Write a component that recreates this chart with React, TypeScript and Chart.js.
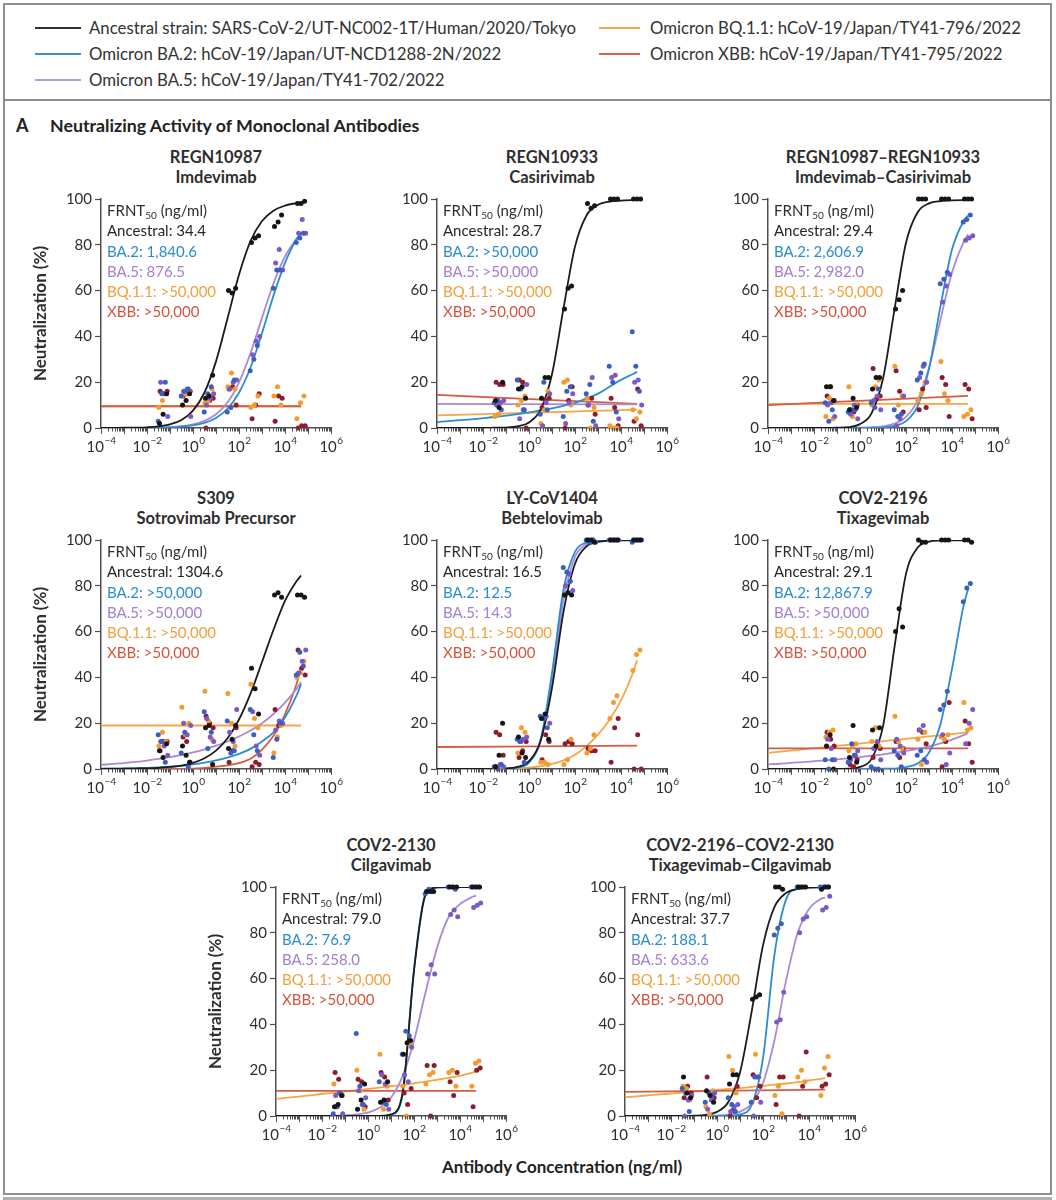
import React, { useEffect, useRef } from 'react';
import { Chart, registerables } from 'chart.js';

Chart.register(...registerables);

const FONT = "Lato, 'Open Sans', 'DejaVu Sans', sans-serif";
const TEXT = '#2e2e2e';
const AXIS = '#505050';
Chart.defaults.font.family = FONT;

// ---------- shared x values ----------
const CONC = [0.05, 0.5, 5, 50, 500, 5000, 50000];
const REP_X = [0.7, 1.0, 1.42];
const VARIANT_X = [1.0, 0.88, 1.12, 0.94, 1.06];
const CURVE_X = [1e-4, 3.162e-4, 1e-3, 3.162e-3, 1e-2, 3.162e-2, 0.1, 0.3162, 1, 3.162, 10, 31.62, 100, 316.2, 1000, 3162, 10000, 31623, 50000];
const LINE_X = [1e-4, 50000];
const X_LABEL_EXPS = [-4, -2, 0, 2, 4, 6];
const Y_TICKS = [0, 20, 40, 60, 80, 100];

// ---------- labels ----------
const VARIANT_NAMES = ['Ancestral', 'BA.2', 'BA.5', 'BQ.1.1', 'XBB'];
const LEGEND_LABELS = [
  'Ancestral strain: SARS-CoV-2/UT-NC002-1T/Human/2020/Tokyo',
  'Omicron BA.2: hCoV-19/Japan/UT-NCD1288-2N/2022',
  'Omicron BA.5: hCoV-19/Japan/TY41-702/2022',
  'Omicron BQ.1.1: hCoV-19/Japan/TY41-796/2022',
  'Omicron XBB: hCoV-19/Japan/TY41-795/2022',
];
const TITLE_LINE1 = ['REGN10987', 'REGN10933', 'REGN10987–REGN10933', 'S309', 'LY-CoV1404', 'COV2-2196', 'COV2-2130', 'COV2-2196–COV2-2130'];
const TITLE_LINE2 = ['Imdevimab', 'Casirivimab', 'Imdevimab–Casirivimab', 'Sotrovimab Precursor', 'Bebtelovimab', 'Tixagevimab', 'Cilgavimab', 'Tixagevimab–Cilgavimab'];
const FRNT_ANC = ['34.4', '28.7', '29.4', '1304.6', '16.5', '29.1', '79.0', '37.7'];
const FRNT_BA2 = ['1,840.6', '>50,000', '2,606.9', '>50,000', '12.5', '12,867.9', '76.9', '188.1'];
const FRNT_BA5 = ['876.5', '>50,000', '2,982.0', '>50,000', '14.3', '>50,000', '258.0', '633.6'];
const FRNT_BQ = ['>50,000', '>50,000', '>50,000', '>50,000', '>50,000', '>50,000', '>50,000', '>50,000'];
const FRNT_XBB = ['>50,000', '>50,000', '>50,000', '>50,000', '>50,000', '>50,000', '>50,000', '>50,000'];

// ---------- measured points (3 replicates per concentration) ----------
const P1_ANC = [2, 6, 15, 10, 12, 15, 13, 14, 23, 60, 59, 61, 81, 83, 84, 88, 90, 93, 98, 98, 99];
const P1_BA2 = [3, 15, 20, 14, 16, 17, 7, 15, 18, 7, 9, 21, 25, 30, 36, 61, 69, 69, 81, 83, 85];
const P1_BA5 = [20, 15, 5, 16, 17, 5, 10, 13, 15, 17, 20, 21, 32, 38, 40, 72, 78, 69, 85, 91, 85];
const P1_BQ = [9, 12, 15, 14, 15, 16, 11, 12, 17, 18, 24, 17, 9, 10, 14, 14, 18, 10, 4, 11, 14];
const P1_XBB = [16, 15, 16, 14, 15, 16, 0, 12, 13, 17, 18, 10, 4, 10, 15, 3, 14, 13, 0, 1, 1];

const P2_ANC = [12, 9, 20, 17, 18, 13, 13, 22, 22, 52, 61, 62, 98, 96, 97, 100, 100, 100, 100, 100, 100];
const P2_BA2 = [11, 12, 8, 21, 17, 8, 6, 20, 8, 5, 16, 18, 15, 19, 3, 27, 20, 7, 42, 27, 16];
const P2_BA5 = [10, 11, 12, 4, 8, 19, 1, 11, 15, 2, 11, 15, 10, 22, 1, 22, 23, 4, 20, 21, 10];
const P2_BQ = [5, 6, 11, 10, 12, 14, 2, 8, 16, 20, 21, 10, 13, 0, 9, 1, 0, 0, 8, 4, 7];
const P2_XBB = [20, 19, 19, 21, 20, 0, 9, 12, 13, 0, 12, 18, 10, 13, 6, 13, 9, 1, 3, 17, 1];

const P3_ANC = [18, 18, 12, 8, 13, 9, 17, 22, 22, 52, 56, 60, 100, 100, 100, 100, 100, 100, 100, 100, 100];
const P3_BA2 = [11, 3, 8, 7, 8, 8, 11, 9, 17, 8, 5, 6, 21, 24, 28, 63, 65, 68, 90, 91, 93];
const P3_BA5 = [10, 11, 5, 6, 10, 4, 12, 14, 8, 1, 4, 14, 22, 27, 20, 55, 62, 67, 82, 83, 84];
const P3_BQ = [5, 13, 4, 18, 5, 10, 10, 18, 21, 27, 10, 14, 12, 15, 20, 29, 15, 12, 5, 6, 8];
const P3_XBB = [14, 18, 12, 8, 7, 10, 26, 13, 14, 25, 16, 7, 8, 17, 9, 22, 19, 5, 19, 17, 4];

const P4_ANC = [8, 5, 11, 10, 6, 3, 18, 19, 2, 9, 13, 19, 44, 35, 24, 76, 77, 75, 76, 76, 75];
const P4_BA2 = [15, 12, 3, 7, 16, 1, 25, 9, 16, 21, 7, 8, 26, 15, 8, 5, 13, 20, 41, 51, 45];
const P4_BA5 = [12, 10, 6, 20, 15, 19, 22, 14, 12, 16, 12, 26, 25, 10, 6, 17, 21, 20, 42, 47, 52];
const P4_BQ = [10, 16, 12, 27, 15, 20, 34, 21, 13, 33, 20, 10, 37, 22, 18, 7, 14, 19, 40, 42, 47];
const P4_XBB = [8, 12, 12, 14, 12, 3, 23, 20, 18, 3, 8, 18, 1, 3, 2, 26, 19, 20, 52, 44, 41];

const P5_ANC = [1, 6, 20, 14, 7, 5, 22, 24, 13, 76, 77, 76, 100, 100, 99, 100, 100, 100, 100, 100, 100];
const P5_BA2 = [1, 0, 2, 13, 12, 3, 23, 22, 18, 88, 86, 82, 100, 99, 100, 100, 100, 100, 99, 100, 100];
const P5_BA5 = [1, 2, 1, 12, 13, 14, 22, 23, 20, 80, 85, 78, 100, 100, 99, 100, 100, 100, 100, 100, 100];
const P5_BQ = [1, 0, 1, 7, 18, 16, 3, 3, 2, 2, 4, 13, 7, 9, 15, 22, 29, 32, 43, 50, 52];
const P5_XBB = [16, 15, 6, 5, 8, 12, 4, 15, 12, 11, 12, 11, 9, 8, 8, 3, 18, 22, 0, 15, 0];

const P6_ANC = [10, 15, 0, 5, 19, 3, 17, 10, 18, 60, 70, 62, 100, 99, 99, 100, 100, 100, 100, 100, 99];
const P6_BA2 = [4, 0, 4, 3, 11, 6, 1, 0, 0, 8, 6, 1, 6, 8, 4, 26, 28, 34, 73, 79, 81];
const P6_BA5 = [13, 9, 4, 4, 6, 8, 9, 12, 4, 13, 10, 7, 17, 19, 3, 15, 2, 7, 11, 20, 26];
const P6_BQ = [14, 16, 17, 8, 10, 11, 12, 18, 10, 23, 12, 9, 13, 2, 16, 14, 13, 15, 29, 17, 18];
const P6_XBB = [16, 13, 10, 2, 1, 4, 5, 10, 9, 12, 5, 9, 17, 16, 11, 1, 12, 29, 21, 11, 3];

const P7_ANC = [4, 5, 9, 3, 7, 14, 6, 7, 15, 27, 32, 33, 98, 98, 98, 100, 100, 100, 100, 100, 100];
const P7_BA2 = [1, 4, 10, 36, 13, 5, 15, 6, 5, 27, 37, 35, 97, 99, 98, 100, 100, 99, 100, 100, 100];
const P7_BA5 = [9, 10, 1, 11, 5, 8, 18, 14, 3, 18, 15, 30, 62, 66, 62, 88, 90, 87, 91, 92, 93];
const P7_BQ = [14, 4, 10, 20, 11, 3, 27, 3, 13, 13, 0, 31, 14, 18, 19, 19, 20, 13, 13, 23, 24];
const P7_XBB = [19, 16, 9, 16, 15, 4, 19, 17, 7, 10, 5, 12, 22, 0, 22, 15, 9, 19, 4, 20, 21];

const P8_ANC = [17, 10, 8, 11, 9, 6, 14, 18, 18, 51, 52, 53, 100, 100, 99, 100, 100, 100, 99, 100, 100];
const P8_BA2 = [12, 10, 2, 6, 10, 9, 8, 5, 2, 6, 17, 17, 79, 82, 84, 100, 100, 100, 100, 100, 100];
const P8_BA5 = [0, 7, 9, 3, 7, 10, 2, 4, 5, 0, 17, 6, 41, 42, 54, 80, 86, 87, 90, 91, 96];
const P8_BQ = [13, 12, 7, 4, 1, 11, 26, 20, 10, 6, 27, 17, 9, 13, 1, 17, 20, 15, 9, 21, 26];
const P8_XBB = [8, 13, 10, 17, 10, 8, 0, 3, 13, 18, 8, 13, 5, 17, 17, 0, 13, 28, 13, 14, 18];

// ---------- fitted curves (values at CURVE_X, or at LINE_X when 2 values) ----------
const P1_ANC_FIT = [0, 0, 0.1, 0.1, 0.3, 0.7, 1.6, 3.5, 7.6, 15.5, 29.1, 47.8, 66.9, 81.6, 90.4, 94.9, 97.1, 98.2, 98.5];
const P1_BA2_FIT = [0, 0, 0, 0, 0, 0.1, 0.3, 0.6, 1.1, 2.2, 4.4, 8.4, 15.4, 26.4, 41.4, 57.8, 72.1, 82.4, 85];
const P1_BA5_FIT = [0, 0, 0, 0, 0.1, 0.2, 0.4, 0.8, 1.6, 3.1, 6.0, 11.1, 19.9, 32.7, 48.1, 63.1, 74.9, 82.5, 84.6];
const P1_BQ_FIT = [9.5, 9.5];
const P1_XBB_FIT = [9.5, 9.5];

const P2_ANC_FIT = [0, 0, 0, 0, 0, 0.1, 0.2, 0.7, 2.4, 8.0, 23.5, 52.2, 79.2, 92.8, 97.5, 98.9, 99.3, 99.5, 99.5];
const P2_BA2_FIT = [2.6, 3.0, 3.4, 3.8, 4.3, 4.8, 5.4, 6.1, 6.8, 7.7, 8.6, 9.7, 11.0, 12.8, 15.0, 18.0, 21.0, 23.5, 24.5];
const P2_BA5_FIT = [10.5, 10.3];
const P2_BQ_FIT = [5.5, 8];
const P2_XBB_FIT = [14.5, 10.5];

const P3_ANC_FIT = [0, 0, 0, 0, 0, 0, 0.1, 0.4, 1.7, 6.4, 21.5, 51.8, 80.9, 94.1, 98.1, 99.1, 99.4, 99.5, 99.5];
const P3_BA2_FIT = [0, 0, 0, 0, 0, 0, 0, 0, 0, 0.1, 0.3, 0.9, 3.0, 9.4, 25.8, 53.2, 77.9, 90.3, 92.8];
const P3_BA5_FIT = [0, 0, 0, 0, 0, 0, 0, 0, 0.1, 0.3, 0.7, 1.9, 4.9, 12.0, 26.2, 47.4, 67.9, 81.2, 84.5];
const P3_BQ_FIT = [10.5, 10.5];
const P3_XBB_FIT = [10, 14];

const P4_ANC_FIT = [0, 0, 0.1, 0.2, 0.3, 0.5, 0.9, 1.5, 2.7, 4.7, 8.0, 13.4, 21.6, 32.9, 46.7, 60.8, 73.4, 82.0, 84.5];
const P4_BA2_FIT = [0.2, 0.25, 0.3, 0.4, 0.5, 0.7, 1.0, 1.4, 2.0, 2.8, 3.8, 5.0, 6.6, 8.8, 12, 16, 22.5, 32, 37];
const P4_BA5_FIT = [1.8, 2.2, 2.6, 3.1, 3.7, 4.4, 5.2, 6.2, 7.3, 8.6, 10.2, 12, 14.2, 16.8, 20, 24, 29, 35, 38];
const P4_BQ_FIT = [19, 19];
const P4_XBB_FIT = [0, 0, 0, 0, 0, 0, 0, 0, 0.2, 0.5, 1, 1.6, 2.6, 4.5, 8.5, 14.5, 24, 37, 44];

const P5_ANC_FIT = [0, 0, 0, 0, 0, 0.1, 0.2, 0.9, 3.4, 12.1, 35.4, 68.6, 89.6, 97.2, 99.2, 99.7, 99.8, 99.8, 99.8];
const P5_BA2_FIT = [0, 0, 0, 0, 0, 0, 0.1, 0.6, 2.8, 12.6, 42, 78.4, 94.8, 98.9, 99.7, 99.9, 100, 100, 100];
const P5_BA5_FIT = [0, 0, 0, 0, 0, 0, 0.2, 0.7, 3.1, 12.4, 38.7, 73.8, 92.6, 98.2, 99.6, 99.9, 100, 100, 100];
const P5_BQ_FIT = [0, 0, 0, 0, 0, 0, 0.1, 0.3, 0.6, 1.2, 2.2, 3.8, 6.2, 10, 15, 21.5, 30, 41.5, 47.5];
const P5_XBB_FIT = [9.6, 10.2];

const P6_ANC_FIT = [0, 0, 0, 0, 0, 0, 0, 0.2, 0.9, 4.4, 18.6, 53.2, 85.2, 96.6, 99.3, 99.8, 99.9, 99.9, 99.9];
const P6_BA2_FIT = [0, 0, 0, 0, 0, 0, 0, 0, 0, 0, 0.1, 0.2, 0.8, 2.4, 7.2, 19.7, 43.7, 71.1, 78.5];
const P6_BA5_FIT = [2, 2.3, 2.7, 3.0, 3.4, 3.8, 4.2, 4.7, 5.2, 5.8, 6.4, 7.1, 7.9, 8.8, 9.9, 11.2, 12.8, 14.8, 15.8];
const P6_BQ_FIT = [7, 16];
const P6_XBB_FIT = [9, 9];

const P7_ANC_FIT = [0, 0, 0, 0, 0, 0, 0, 0, 0, 0, 0.7, 9.9, 63.5, 96.5, 99.8, 100, 100, 100, 100];
const P7_BA2_FIT = [0, 0, 0, 0, 0, 0, 0, 0, 0, 0, 0.5, 9.0, 64.0, 97.0, 99.8, 100, 100, 100, 100];
const P7_BA5_FIT = [0, 0, 0, 0, 0, 0.1, 0.3, 0.7, 1.5, 3.6, 8.0, 17.3, 32.9, 53.9, 73.4, 86.8, 92.5, 95.5, 96.2];
const P7_BQ_FIT = [7.5, 8.0, 8.5, 9.0, 9.6, 10.1, 10.7, 11.2, 11.8, 12.4, 13.0, 13.6, 14.3, 15.0, 15.8, 16.6, 17.6, 18.8, 19.5];
const P7_XBB_FIT = [11, 11];

const P8_ANC_FIT = [0, 0, 0, 0, 0, 0, 0.1, 0.5, 1.8, 6.2, 19.0, 45.2, 74.5, 91.3, 97.4, 99.2, 99.7, 99.9, 99.9];
const P8_BA2_FIT = [0, 0, 0, 0, 0, 0, 0, 0, 0, 0.1, 0.7, 4.6, 25.3, 70.6, 94.5, 99.2, 99.9, 100, 100];
const P8_BA5_FIT = [0, 0, 0, 0, 0, 0, 0, 0.1, 0.2, 0.6, 1.9, 5.3, 14.4, 33.2, 59.0, 79.7, 90.4, 94.7, 95.4];
const P8_BQ_FIT = [8.2, 8.6, 9.0, 9.4, 9.8, 10.2, 10.6, 11.0, 11.4, 11.8, 12.2, 12.7, 13.2, 13.7, 14.2, 14.8, 15.5, 16.2, 16.5];
const P8_XBB_FIT = [10.5, 11.5];

// ---------- styling ----------
const LINE_COLORS = ['#1c1c1c', '#2a8cd2', '#a98ad4', '#f2a646', '#d65b43'];
const DOT_COLORS = ['#161616', '#3a5fc4', '#7a5ac6', '#f59a2c', '#8c1c2e'];
const LABEL_COLORS = ['#262626', '#2a8cd2', '#a27fd1', '#f2a03c', '#d4553e'];
const LEGEND_COLORS = ['#333333', '#3a8fd0', '#b79ad6', '#f0a84a', '#d7604a'];
const LINE_DRAW_ORDER = [0, 1, 2, 4, 3];

const PANEL_LEFT = [101, 437, 768, 101, 437, 768, 276, 625];
const PANEL_TOP = [199, 199, 199, 540, 540, 540, 887, 887];
const PLOT_W = 230;
const PLOT_H = 229;
const Y_AXIS_W = 71;
const PAD_TOP = 12;
const PAD_RIGHT = 14;
const X_AXIS_H = 30;

const PANELS = [
  { dots: [P1_ANC, P1_BA2, P1_BA5, P1_BQ, P1_XBB], fits: [P1_ANC_FIT, P1_BA2_FIT, P1_BA5_FIT, P1_BQ_FIT, P1_XBB_FIT] },
  { dots: [P2_ANC, P2_BA2, P2_BA5, P2_BQ, P2_XBB], fits: [P2_ANC_FIT, P2_BA2_FIT, P2_BA5_FIT, P2_BQ_FIT, P2_XBB_FIT] },
  { dots: [P3_ANC, P3_BA2, P3_BA5, P3_BQ, P3_XBB], fits: [P3_ANC_FIT, P3_BA2_FIT, P3_BA5_FIT, P3_BQ_FIT, P3_XBB_FIT] },
  { dots: [P4_ANC, P4_BA2, P4_BA5, P4_BQ, P4_XBB], fits: [P4_ANC_FIT, P4_BA2_FIT, P4_BA5_FIT, P4_BQ_FIT, P4_XBB_FIT] },
  { dots: [P5_ANC, P5_BA2, P5_BA5, P5_BQ, P5_XBB], fits: [P5_ANC_FIT, P5_BA2_FIT, P5_BA5_FIT, P5_BQ_FIT, P5_XBB_FIT] },
  { dots: [P6_ANC, P6_BA2, P6_BA5, P6_BQ, P6_XBB], fits: [P6_ANC_FIT, P6_BA2_FIT, P6_BA5_FIT, P6_BQ_FIT, P6_XBB_FIT] },
  { dots: [P7_ANC, P7_BA2, P7_BA5, P7_BQ, P7_XBB], fits: [P7_ANC_FIT, P7_BA2_FIT, P7_BA5_FIT, P7_BQ_FIT, P7_XBB_FIT] },
  { dots: [P8_ANC, P8_BA2, P8_BA5, P8_BQ, P8_XBB], fits: [P8_ANC_FIT, P8_BA2_FIT, P8_BA5_FIT, P8_BQ_FIT, P8_XBB_FIT] },
];
const FRNT_VALUES = [FRNT_ANC, FRNT_BA2, FRNT_BA5, FRNT_BQ, FRNT_XBB];

const logAxisPlugin = {
  id: 'logAxisDecor',
  afterDraw(chart: any) {
    const ctx = chart.ctx;
    const xs = chart.scales.x;
    const bottom = chart.chartArea.bottom;
    ctx.save();
    ctx.strokeStyle = AXIS;
    ctx.lineWidth = 1;
    ctx.beginPath();
    for (let e = -4; e <= 6; e++) {
      for (let m = 1; m <= 9; m++) {
        if (e === 6 && m > 1) break;
        const px = Math.round(xs.getPixelForValue(m * Math.pow(10, e))) + 0.5;
        const len = m === 1 ? 6 : 3.5;
        ctx.moveTo(px, bottom);
        ctx.lineTo(px, bottom + len);
      }
    }
    ctx.stroke();
    ctx.fillStyle = TEXT;
    ctx.textAlign = 'left';
    ctx.textBaseline = 'alphabetic';
    X_LABEL_EXPS.forEach((e) => {
      const px = xs.getPixelForValue(Math.pow(10, e));
      const base = '10';
      const sup = e < 0 ? '\u2212' + Math.abs(e) : String(e);
      ctx.font = `15px ${FONT}`;
      const bw = ctx.measureText(base).width;
      ctx.font = `10px ${FONT}`;
      const sw = ctx.measureText(sup).width;
      const x0 = px - (bw + sw) / 2;
      ctx.font = `15px ${FONT}`;
      ctx.fillText(base, x0, bottom + 24);
      ctx.font = `10px ${FONT}`;
      ctx.fillText(sup, x0 + bw + 0.5, bottom + 16);
    });
    ctx.restore();
  },
};

function Panel({ idx }: { idx: number }) {
  const ref = useRef<HTMLCanvasElement>(null);
  const left = PANEL_LEFT[idx];
  const top = PANEL_TOP[idx];
  const showYTitle = left === 101 || idx === 6;
  const cw = Y_AXIS_W + PLOT_W + PAD_RIGHT;
  const ch = PAD_TOP + PLOT_H + X_AXIS_H;

  useEffect(() => {
    const p = PANELS[idx];
    const datasets: any[] = [];
    p.dots.forEach((vals, v) => {
      datasets.push({
        type: 'scatter',
        data: vals.map((y, k) => ({ x: CONC[Math.floor(k / 3)] * REP_X[k % 3] * VARIANT_X[v], y })),
        backgroundColor: DOT_COLORS[v],
        borderWidth: 0,
        pointRadius: 2.5,
        pointHoverRadius: 2.5,
        clip: false,
      });
    });
    LINE_DRAW_ORDER.forEach((v) => {
      const ys = p.fits[v];
      const xs = ys.length === 2 ? LINE_X : CURVE_X;
      datasets.push({
        type: 'line',
        data: ys.map((y, k) => ({ x: xs[k], y })),
        borderColor: LINE_COLORS[v],
        borderWidth: 1.8,
        pointRadius: 0,
        cubicInterpolationMode: 'monotone',
        fill: false,
      });
    });
    const chart = new Chart(ref.current as HTMLCanvasElement, {
      type: 'scatter',
      data: { datasets },
      options: {
        animation: false,
        responsive: false,
        maintainAspectRatio: false,
        layout: { padding: { top: PAD_TOP, right: PAD_RIGHT, left: 0, bottom: 0 } },
        plugins: { legend: { display: false }, tooltip: { enabled: false } },
        scales: {
          x: {
            type: 'logarithmic',
            min: 1e-4,
            max: 1e6,
            ticks: { display: false },
            grid: { display: false },
            border: { display: true, color: AXIS, width: 1.5 },
            afterFit: (s: any) => { s.height = X_AXIS_H; },
          },
          y: {
            type: 'linear',
            min: 0,
            max: 100,
            afterBuildTicks: (s: any) => { s.ticks = Y_TICKS.map((value) => ({ value })); },
            ticks: { font: { size: 15, family: FONT }, color: TEXT, padding: 3 },
            grid: { drawOnChartArea: false, drawTicks: true, tickLength: 6, color: AXIS, tickWidth: 1.2 },
            border: { display: true, color: AXIS, width: 1.5 },
            title: {
              display: showYTitle,
              text: 'Neutralization (%)',
              font: { size: 17, weight: 'bold', family: FONT },
              color: TEXT,
              padding: 0,
            },
            afterFit: (s: any) => { s.width = Y_AXIS_W; },
          },
        },
      } as any,
      plugins: [logAxisPlugin],
    });
    return () => chart.destroy();
  }, [idx]);

  return (
    <>
      <div style={{ position: 'absolute', left: left - 20, top: top - 52, width: PLOT_W + 40, textAlign: 'center', font: `bold 16.5px ${FONT}`, color: TEXT, lineHeight: '20px', whiteSpace: 'nowrap' }}>
        <div>{TITLE_LINE1[idx]}</div>
        <div>{TITLE_LINE2[idx]}</div>
      </div>
      <canvas
        ref={ref}
        width={cw}
        height={ch}
        style={{ position: 'absolute', left: left - Y_AXIS_W, top: top - PAD_TOP, width: cw, height: ch }}
      />
      <div style={{ position: 'absolute', left: left + 6, top: top + 1, font: `15px ${FONT}`, lineHeight: '20.3px', color: TEXT, whiteSpace: 'nowrap' }}>
        <div>FRNT<sub style={{ fontSize: '10px', verticalAlign: '-3px', lineHeight: 0 }}>50</sub> (ng/ml)</div>
        {VARIANT_NAMES.map((name, v) => (
          <div key={name} style={{ color: LABEL_COLORS[v] }}>{name}: {FRNT_VALUES[v][idx]}</div>
        ))}
      </div>
    </>
  );
}

export default function App() {
  const legendRows = [
    { v: 0, x: 35, y: 28 },
    { v: 1, x: 35, y: 54 },
    { v: 2, x: 35, y: 80 },
    { v: 3, x: 599, y: 28 },
    { v: 4, x: 599, y: 54 },
  ];
  return (
    <div style={{ position: 'absolute', left: 0, top: 0, width: 1056, height: 1200, background: '#fff', fontFamily: FONT, color: TEXT, overflow: 'hidden' }}>
      <div style={{ position: 'absolute', left: 3, top: 3, width: 1049, height: 1192, border: '2px solid #8e8e8e', boxSizing: 'border-box' }} />
      <div style={{ position: 'absolute', left: 3, top: 99, width: 1049, height: 2, background: '#8e8e8e' }} />
      <div style={{ position: 'absolute', left: 3, top: 1197, width: 1049, height: 3, background: '#b0b0b0' }} />
      {legendRows.map((r) => (
        <React.Fragment key={r.v}>
          <div style={{ position: 'absolute', left: r.x, top: r.y - 1, width: r.v < 3 ? 46 : 41, height: 2, background: LEGEND_COLORS[r.v] }} />
          <div style={{ position: 'absolute', left: r.x + (r.v < 3 ? 54 : 51), top: r.y - 11, font: `16.8px ${FONT}`, lineHeight: '22px', color: '#333', whiteSpace: 'nowrap' }}>
            {LEGEND_LABELS[r.v]}
          </div>
        </React.Fragment>
      ))}
      <div style={{ position: 'absolute', left: 16, top: 114, font: `bold 18px ${FONT}`, lineHeight: '22px', color: '#222' }}>A</div>
      <div style={{ position: 'absolute', left: 50, top: 114, font: `bold 17.8px ${FONT}`, lineHeight: '22px', color: '#222', whiteSpace: 'nowrap' }}>
        Neutralizing Activity of Monoclonal Antibodies
      </div>
      {PANELS.map((_, i) => (
        <Panel key={i} idx={i} />
      ))}
      <div style={{ position: 'absolute', left: 330, top: 1156, width: 464, textAlign: 'center', font: `bold 17px ${FONT}`, lineHeight: '22px', color: '#222' }}>
        Antibody Concentration (ng/ml)
      </div>
    </div>
  );
}
